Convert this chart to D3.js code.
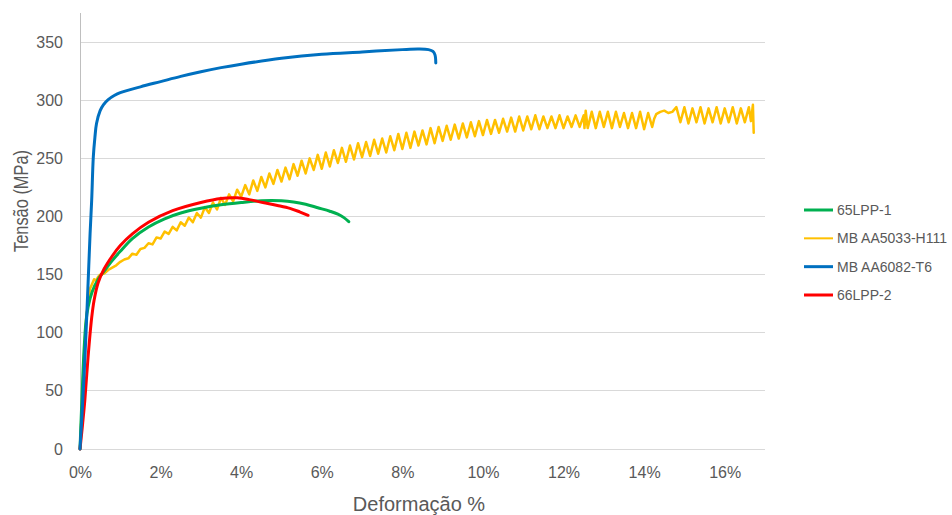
<!DOCTYPE html>
<html>
<head>
<meta charset="utf-8">
<script src="https://cdn.jsdelivr.net/npm/d3@7"></script>
<style>
  html, body { margin: 0; padding: 0; background: #fff; }
  svg { display: block; font-family: "Liberation Sans", Arial, sans-serif; }
</style>
</head>
<body>
<svg id="chart" width="952" height="515"></svg>
<script>
// ---- DATA (x = strain in %, y = stress in MPa) ----
const seriesNames = ["65LPP-1", "MB AA5033-H111", "MB AA6082-T6", "66LPP-2"];
const seriesColors = ["#00B050", "#FFC000", "#0070C0", "#FF0000"];

const green65LPP1 = [
  [0,0],[0.05,45],[0.1,85],[0.15,110],[0.2,122],[0.3,135],[0.45,146],[0.6,153],[0.8,162],[1.0,170],
  [1.3,181],[1.7,191],[2.1,198],[2.5,203],[3.0,207],[3.5,210],[4.0,212],[4.5,213.5],[5.0,213.5],
  [5.3,212.5],[5.6,210.5],[5.9,207.5],[6.2,204.5],[6.4,202],[6.55,199],[6.67,195.5]
];

const yellowAA5033 = [
  [0,0],[0.05,40],[0.1,80],[0.15,110],[0.2,128],[0.25,138],[0.3,142],[0.35,146],[0.4,145],[0.45,148],
  [0.5,150],[0.6,151],[0.7,154],[0.8,156],[0.9,158],[1.0,161],[1.1,163],[1.2,164],[1.3,168],[1.4,167],
  [1.5,172],[1.6,173],[1.7,177],[1.8,176],[1.9,182],[2.0,181],[2.1,187],[2.2,185],[2.3,191],[2.4,188],
  [2.5,195],[2.6,192],[2.7,199],[2.8,195],[2.9,203],[3.0,199],
  [3.1,208],[3.2,203],[3.3,212],[3.4,206],[3.5,216],[3.6,210],[3.7,219],[3.8,213],[3.9,223],[4.0,217],
  [4.1,227],[4.2,219],[4.3,231],[4.4,222],[4.5,234],[4.6,225],[4.7,237],[4.8,228],[4.9,240],[5.0,230],
  [5.1,242],[5.2,232],[5.3,245],[5.4,235],[5.5,248],[5.6,237],[5.7,250],[5.8,240],[5.9,253],[6.0,241],
  [6.1,255],[6.2,243],[6.3,257],[6.4,246],[6.5,259],[6.6,247],[6.7,261],[6.8,249],[6.9,263],[7.0,251],
  [7.1,264],[7.2,252],[7.3,266],[7.4,254],[7.5,267],[7.6,255],[7.7,269],[7.8,257],[7.9,271],[8.0,258],
  [8.1,272],[8.2,259],[8.3,273],[8.4,261],[8.5,274],[8.6,262],[8.7,276],[8.8,263],[8.9,277],[9.0,265],
  [9.1,278],[9.2,266],[9.3,279],[9.4,267],[9.5,280],[9.6,268],[9.7,281],[9.8,269],[9.9,282],[10.0,270],
  [10.1,283],[10.2,271],[10.3,283],[10.4,272],[10.5,284],[10.6,273],[10.7,285],[10.8,273],[10.9,286],[11.0,274],
  [11.1,286],[11.2,275],[11.3,287],[11.4,275],[11.5,286],[11.6,276],[11.7,286],[11.8,276],[11.9,287],[12.0,276],
  [12.1,286],[12.2,277],[12.3,287],[12.4,277],[12.5,287],[12.52,276],[12.55,291],[12.6,276],[12.7,290],[12.8,276],
  [12.9,290],[13.0,277],[13.1,290],[13.2,276],[13.3,290],[13.4,277],[13.5,289],[13.6,276],[13.7,289],[13.8,276],
  [13.9,290],[14.0,275],[14.1,289],[14.2,277],[14.25,284],[14.3,288],[14.4,290],[14.5,291],[14.6,289],[14.7,290],
  [14.8,294],[14.9,281],[15.0,294],[15.1,280],[15.2,293],[15.3,281],[15.4,294],[15.5,280],[15.6,293],[15.7,281],
  [15.8,294],[15.9,280],[16.0,293],[16.1,281],[16.2,294],[16.3,280],[16.4,293],[16.5,281],[16.6,294],[16.65,282],
  [16.7,296],[16.72,272]
];

const blueAA6082 = [
  [0,0],[0.05,30],[0.1,62],[0.15,100],[0.2,142],[0.25,185],[0.29,214],[0.33,251],[0.37,268],[0.41,280],
  [0.5,291],[0.58,296],[0.7,300.5],[0.85,304],[1.0,306.5],[1.5,311.5],[2.0,316],[2.5,320.5],[3.0,324.5],
  [3.5,328],[4.0,331],[5.0,336],[6.0,339.5],[7.0,341.5],[8.0,343.5],[8.4,344],[8.65,343.5],[8.76,342],
  [8.81,339],[8.83,332]
];

const red66LPP2 = [
  [0,0],[0.06,20],[0.12,42],[0.2,79],[0.29,113],[0.35,128],[0.45,143],[0.6,155],[0.8,166],[1.0,175],
  [1.3,185],[1.7,195],[2.3,205],[3.0,212],[3.5,215.5],[3.9,216],[4.2,214.5],[4.54,212],[4.9,209.5],
  [5.21,207],[5.45,204],[5.66,201]
];

const seriesData = [green65LPP1, yellowAA5033, blueAA6082, red66LPP2];
const seriesWidths = [3, 2.5, 3, 3];

const xTicks = [0, 2, 4, 6, 8, 10, 12, 14, 16];
const yTicks = [0, 50, 100, 150, 200, 250, 300, 350];
const xTitle = "Deformação %";
const yTitle = "Tensão (MPa)";

// ---- CHART ----
const svg = d3.select("#chart");
const plot = { left: 80, right: 765, top: 13, bottom: 449 };
const textColor = "#595959";

const x = d3.scaleLinear().domain([0, 17]).range([plot.left, plot.right]);
const y = d3.scaleLinear().domain([0, 375]).range([plot.bottom, plot.top]);

// gridlines
svg.append("g")
  .selectAll("line")
  .data(yTicks)
  .join("line")
  .attr("x1", plot.left).attr("x2", plot.right)
  .attr("y1", d => y(d)).attr("y2", d => y(d))
  .attr("stroke", "#D9D9D9").attr("stroke-width", 1)
  .attr("shape-rendering", "crispEdges");

// y axis
const yAxis = svg.append("g")
  .attr("transform", `translate(${plot.left},0)`)
  .call(d3.axisLeft(y).tickValues(yTicks).tickSize(0).tickPadding(17));
yAxis.select(".domain").attr("stroke", "#BFBFBF").attr("shape-rendering", "crispEdges")
  .attr("d", `M0,${plot.top}V${plot.bottom}`);
yAxis.selectAll("text").attr("fill", textColor).style("font-size", "16px")
  .style("font-family", '"Liberation Sans", Arial, sans-serif');

// x axis
const xAxis = svg.append("g")
  .attr("transform", `translate(0,${plot.bottom})`)
  .call(d3.axisBottom(x).tickValues(xTicks).tickSize(0).tickPadding(18).tickFormat(d => d + "%"));
xAxis.select(".domain").remove();
xAxis.selectAll("text").attr("fill", textColor).style("font-size", "16px")
  .style("font-family", '"Liberation Sans", Arial, sans-serif');

// series
const line = d3.line().x(d => x(d[0])).y(d => y(d[1]));
const smoothLine = d3.line().x(d => x(d[0])).y(d => y(d[1])).curve(d3.curveCatmullRom.alpha(0.5));

const drawOrder = [1, 0, 3, 2];
drawOrder.forEach(i => {
  svg.append("path")
    .datum(seriesData[i])
    .attr("fill", "none")
    .attr("stroke", seriesColors[i])
    .attr("stroke-width", seriesWidths[i])
    .attr("stroke-linejoin", "round")
    .attr("stroke-linecap", "round")
    .attr("d", i === 1 ? line : smoothLine);
});

// axis titles
svg.append("text")
  .attr("x", 419).attr("y", 511)
  .attr("text-anchor", "middle")
  .attr("fill", textColor)
  .style("font-size", "20px")
  .text(xTitle);

svg.append("text")
  .attr("transform", "translate(28,201) rotate(-90)")
  .attr("text-anchor", "middle")
  .attr("fill", textColor)
  .style("font-size", "20px")
  .attr("textLength", 102)
  .attr("lengthAdjust", "spacingAndGlyphs")
  .text(yTitle);

// legend
const legendY = d3.scalePoint().domain(seriesNames).range([210, 295]);
const legend = svg.append("g");
seriesNames.forEach((name, i) => {
  const ly = legendY(name);
  legend.append("line")
    .attr("x1", 804).attr("x2", 833)
    .attr("y1", ly).attr("y2", ly)
    .attr("stroke", seriesColors[i])
    .attr("stroke-width", i === 1 ? 2 : 3);
  legend.append("text")
    .attr("x", 837).attr("y", ly)
    .attr("dy", "0.35em")
    .attr("fill", textColor)
    .style("font-size", "14px")
    .text(name);
});
</script>
</body>
</html>
